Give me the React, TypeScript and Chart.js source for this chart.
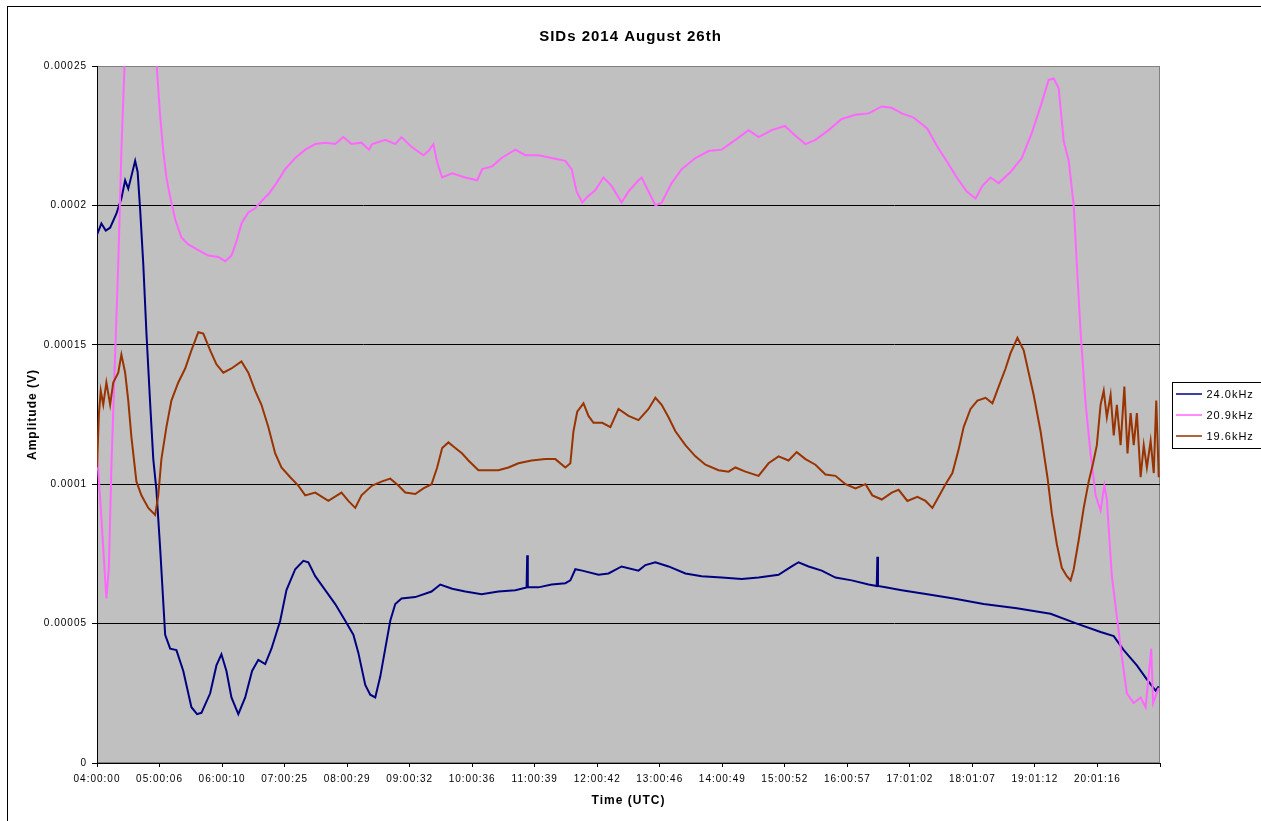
import { useEffect, useRef } from 'react';
import { Chart, registerables } from 'chart.js';

Chart.register(...registerables);

const FONT = '"Liberation Sans", Arial, sans-serif';

const chartTitle = 'SIDs 2014 August 26th';
const xAxisTitle = 'Time (UTC)';
const yAxisTitle = 'Amplitude (V)';

// category tick labels (one tick per ~hour of samples)
const xTickLabels = [
  '04:00:00', '05:00:06', '06:00:10', '07:00:25', '08:00:29', '09:00:32',
  '10:00:36', '11:00:39', '12:00:42', '13:00:46', '14:00:49', '15:00:52',
  '16:00:57', '17:01:02', '18:01:07', '19:01:12', '20:01:16', '',
];
const yTickValues = [0, 0.00005, 0.0001, 0.00015, 0.0002, 0.00025];
const yTickLabels = ['0', '0.00005', '0.0001', '0.00015', '0.0002', '0.00025'];

const seriesNames = ['24.0kHz', '20.9kHz', '19.6kHz'];
const seriesColors = ['#000080', '#FF66FF', '#993300'];

// 24.0 kHz : position along time axis (tick units) and amplitude (V)
const t24 = [
  0, 0.07, 0.14, 0.21, 0.31, 0.39, 0.45, 0.5, 0.55, 0.61, 0.65, 0.69, 0.74, 0.79, 0.85, 0.9, 0.95,
  1.01, 1.09, 1.17, 1.27, 1.38, 1.51, 1.6, 1.67, 1.81, 1.91, 1.99, 2.07, 2.15, 2.26, 2.37, 2.48,
  2.58, 2.69, 2.79, 2.93, 3.03, 3.17, 3.3, 3.38, 3.49, 3.65, 3.81, 3.97, 4.1, 4.18, 4.29, 4.37,
  4.45, 4.53, 4.61, 4.69, 4.77, 4.87, 5.09, 5.35, 5.49, 5.68, 5.89, 6.15, 6.42, 6.69, 6.87, 6.88,
  6.89, 7.06, 7.27, 7.49, 7.57, 7.65, 7.76, 8.02, 8.18, 8.39, 8.66, 8.77, 8.93, 9.14, 9.41, 9.67,
  9.99, 10.31, 10.58, 10.9, 11.11, 11.22, 11.38, 11.59, 11.81, 12.07, 12.34, 12.47, 12.48, 12.49,
  12.61, 12.87, 13.28, 13.7, 14.18, 14.71, 15.25, 15.67, 16.05, 16.26, 16.42, 16.63, 16.79, 16.93,
  16.98,
];
const v24 = [
  18.95e-5, 19.35e-5, 19.1e-5, 19.2e-5, 19.7e-5, 20.25e-5, 20.9e-5, 20.6e-5, 21.05e-5, 21.6e-5,
  21.2e-5, 19.85e-5, 17.9e-5, 15.45e-5, 12.9e-5, 10.9e-5, 9.8e-5, 7.7e-5, 4.6e-5, 4.1e-5, 4.05e-5,
  3.3e-5, 2.0e-5, 1.75e-5, 1.8e-5, 2.5e-5, 3.5e-5, 3.9e-5, 3.3e-5, 2.35e-5, 1.75e-5, 2.35e-5,
  3.3e-5, 3.7e-5, 3.55e-5, 4.1e-5, 5.1e-5, 6.2e-5, 6.95e-5, 7.25e-5, 7.2e-5, 6.7e-5, 6.2e-5,
  5.7e-5, 5.1e-5, 4.6e-5, 3.95e-5, 2.8e-5, 2.45e-5, 2.35e-5, 3.1e-5, 4.1e-5, 5.1e-5, 5.7e-5,
  5.9e-5, 5.95e-5, 6.15e-5, 6.4e-5, 6.25e-5, 6.15e-5, 6.05e-5, 6.15e-5, 6.2e-5, 6.3e-5, 7.45e-5,
  6.3e-5, 6.3e-5, 6.4e-5, 6.45e-5, 6.55e-5, 6.95e-5, 6.9e-5, 6.75e-5, 6.8e-5, 7.05e-5, 6.9e-5,
  7.1e-5, 7.2e-5, 7.05e-5, 6.8e-5, 6.7e-5, 6.65e-5, 6.6e-5, 6.65e-5, 6.75e-5, 7.05e-5, 7.2e-5,
  7.05e-5, 6.9e-5, 6.65e-5, 6.55e-5, 6.4e-5, 6.35e-5, 7.4e-5, 6.35e-5, 6.3e-5, 6.2e-5, 6.05e-5,
  5.9e-5, 5.7e-5, 5.55e-5, 5.35e-5, 5.0e-5, 4.7e-5, 4.55e-5, 4.05e-5, 3.5e-5, 3.0e-5, 2.6e-5,
  2.75e-5,
];

// 20.9 kHz
const t209 = [
  0, 0.05, 0.1, 0.15, 0.19, 0.23, 0.29, 0.34, 0.39, 0.44, 0.55, 0.7, 0.85, 0.955, 1.01, 1.06, 1.11,
  1.17, 1.25, 1.35, 1.46, 1.62, 1.78, 1.94, 2.05, 2.15, 2.23, 2.31, 2.42, 2.53, 2.63, 2.74, 2.87,
  3.01, 3.17, 3.33, 3.49, 3.65, 3.81, 3.94, 4.07, 4.23, 4.35, 4.4, 4.61, 4.77, 4.87, 5.03, 5.22,
  5.3, 5.38, 5.44, 5.52, 5.68, 5.89, 6.08, 6.16, 6.32, 6.47, 6.69, 6.85, 7.06, 7.27, 7.49, 7.59,
  7.67, 7.76, 7.84, 7.97, 8.1, 8.23, 8.39, 8.5, 8.66, 8.71, 8.82, 8.93, 9.03, 9.19, 9.35, 9.57,
  9.78, 9.99, 10.21, 10.42, 10.58, 10.79, 11.0, 11.17, 11.33, 11.49, 11.7, 11.91, 12.13, 12.34,
  12.55, 12.71, 12.87, 13.06, 13.28, 13.44, 13.6, 13.75, 13.91, 14.05, 14.16, 14.29, 14.42, 14.61,
  14.79, 14.95, 15.09, 15.22, 15.3, 15.38, 15.46, 15.54, 15.62, 15.67, 15.73, 15.81, 15.89, 15.97,
  16.05, 16.11, 16.15, 16.23, 16.31, 16.39, 16.47, 16.58, 16.69, 16.77, 16.86, 16.89, 16.98,
];
const v209 = [
  11.1e-5, 9.5e-5, 7.7e-5, 5.9e-5, 7.0e-5, 10.6e-5, 14.65e-5, 17.9e-5, 21.95e-5, 25.0e-5, 28.5e-5,
  29.5e-5, 27.5e-5, 25.0e-5, 23.2e-5, 21.95e-5, 21.0e-5, 20.3e-5, 19.5e-5, 18.85e-5, 18.6e-5,
  18.4e-5, 18.2e-5, 18.15e-5, 18.0e-5, 18.2e-5, 18.7e-5, 19.35e-5, 19.75e-5, 19.9e-5, 20.15e-5,
  20.4e-5, 20.8e-5, 21.3e-5, 21.7e-5, 22.0e-5, 22.2e-5, 22.25e-5, 22.2e-5, 22.45e-5, 22.2e-5,
  22.25e-5, 22.0e-5, 22.2e-5, 22.35e-5, 22.2e-5, 22.45e-5, 22.1e-5, 21.8e-5, 21.95e-5, 22.2e-5,
  21.55e-5, 21.0e-5, 21.15e-5, 21.0e-5, 20.9e-5, 21.3e-5, 21.4e-5, 21.7e-5, 22.0e-5, 21.8e-5,
  21.8e-5, 21.7e-5, 21.6e-5, 21.3e-5, 20.5e-5, 20.1e-5, 20.3e-5, 20.55e-5, 21.0e-5, 20.7e-5,
  20.1e-5, 20.5e-5, 20.9e-5, 21.0e-5, 20.5e-5, 20.0e-5, 20.1e-5, 20.8e-5, 21.3e-5, 21.7e-5,
  21.95e-5, 22.0e-5, 22.35e-5, 22.7e-5, 22.45e-5, 22.7e-5, 22.85e-5, 22.5e-5, 22.2e-5, 22.35e-5,
  22.7e-5, 23.1e-5, 23.25e-5, 23.3e-5, 23.55e-5, 23.5e-5, 23.3e-5, 23.15e-5, 22.75e-5, 22.1e-5,
  21.55e-5, 21.0e-5, 20.5e-5, 20.25e-5, 20.7e-5, 21.0e-5, 20.8e-5, 21.2e-5, 21.7e-5, 22.6e-5,
  23.55e-5, 24.5e-5, 24.55e-5, 24.2e-5, 22.3e-5, 21.6e-5, 20.0e-5, 17.9e-5, 15.45e-5, 12.9e-5,
  11.1e-5, 9.6e-5, 9.05e-5, 9.95e-5, 9.45e-5, 6.7e-5, 5.25e-5, 3.8e-5, 2.5e-5, 2.15e-5, 2.35e-5,
  2.0e-5, 4.1e-5, 2.15e-5, 2.7e-5,
];

// 19.6 kHz
const t196 = [
  0, 0.03, 0.06, 0.1, 0.15, 0.21, 0.26, 0.34, 0.39, 0.45, 0.5, 0.55, 0.63, 0.71, 0.82, 0.93, 0.98,
  1.03, 1.11, 1.19, 1.3, 1.41, 1.51, 1.62, 1.7, 1.81, 1.91, 2.02, 2.15, 2.31, 2.42, 2.53, 2.63,
  2.74, 2.85, 2.95, 3.09, 3.22, 3.33, 3.49, 3.7, 3.91, 4.02, 4.13, 4.23, 4.35, 4.4, 4.56, 4.69,
  4.82, 4.93, 5.09, 5.22, 5.35, 5.44, 5.52, 5.62, 5.73, 5.84, 5.94, 6.1, 6.26, 6.42, 6.58, 6.74,
  6.95, 7.17, 7.33, 7.49, 7.57, 7.62, 7.68, 7.78, 7.86, 7.94, 8.08, 8.21, 8.34, 8.5, 8.66, 8.82,
  8.93, 9.03, 9.14, 9.25, 9.41, 9.57, 9.73, 9.94, 10.1, 10.21, 10.37, 10.58, 10.74, 10.9, 11.06,
  11.19, 11.33, 11.49, 11.65, 11.81, 11.97, 12.13, 12.29, 12.4, 12.55, 12.71, 12.82, 12.96, 13.12,
  13.25, 13.36, 13.46, 13.57, 13.68, 13.78, 13.86, 13.97, 14.08, 14.21, 14.32, 14.42, 14.53, 14.61,
  14.72, 14.82, 14.9, 14.98, 15.09, 15.2, 15.27, 15.35, 15.43, 15.51, 15.57, 15.62, 15.7, 15.78,
  15.86, 15.93, 15.99, 16.05, 16.1, 16.15, 16.21, 16.26, 16.31, 16.37, 16.43, 16.48, 16.53, 16.58,
  16.63, 16.69, 16.74, 16.79, 16.85, 16.9, 16.94, 16.98,
];
const v196 = [
  10.6e-5, 12.5e-5, 13.35e-5, 12.85e-5, 13.65e-5, 12.85e-5, 13.65e-5, 14.0e-5, 14.65e-5, 14.0e-5,
  13.0e-5, 11.7e-5, 10.1e-5, 9.6e-5, 9.15e-5, 8.9e-5, 9.6e-5, 10.9e-5, 12.05e-5, 13.0e-5, 13.65e-5,
  14.15e-5, 14.8e-5, 15.45e-5, 15.4e-5, 14.8e-5, 14.3e-5, 14.0e-5, 14.15e-5, 14.4e-5, 14.0e-5,
  13.35e-5, 12.85e-5, 12.05e-5, 11.1e-5, 10.6e-5, 10.25e-5, 9.95e-5, 9.6e-5, 9.7e-5, 9.4e-5,
  9.7e-5, 9.4e-5, 9.15e-5, 9.6e-5, 9.85e-5, 9.95e-5, 10.1e-5, 10.2e-5, 9.95e-5, 9.7e-5, 9.65e-5,
  9.85e-5, 10.0e-5, 10.6e-5, 11.3e-5, 11.5e-5, 11.3e-5, 11.1e-5, 10.85e-5, 10.5e-5, 10.5e-5,
  10.5e-5, 10.6e-5, 10.75e-5, 10.85e-5, 10.9e-5, 10.9e-5, 10.6e-5, 10.75e-5, 11.9e-5, 12.6e-5,
  12.9e-5, 12.45e-5, 12.2e-5, 12.2e-5, 12.05e-5, 12.7e-5, 12.45e-5, 12.3e-5, 12.7e-5, 13.1e-5,
  12.85e-5, 12.4e-5, 11.9e-5, 11.4e-5, 11.0e-5, 10.7e-5, 10.5e-5, 10.45e-5, 10.6e-5, 10.45e-5,
  10.3e-5, 10.75e-5, 11.0e-5, 10.85e-5, 11.15e-5, 10.9e-5, 10.7e-5, 10.35e-5, 10.3e-5, 10.0e-5,
  9.85e-5, 10.0e-5, 9.6e-5, 9.45e-5, 9.7e-5, 9.8e-5, 9.4e-5, 9.55e-5, 9.4e-5, 9.15e-5, 9.55e-5,
  10.0e-5, 10.4e-5, 11.25e-5, 12.05e-5, 12.7e-5, 13.0e-5, 13.1e-5, 12.9e-5, 13.5e-5, 14.15e-5,
  14.7e-5, 15.25e-5, 14.8e-5, 14.0e-5, 13.2e-5, 11.9e-5, 10.25e-5, 8.95e-5, 7.85e-5, 7.0e-5,
  6.7e-5, 6.55e-5, 6.95e-5, 8.0e-5, 9.15e-5, 10.1e-5, 10.75e-5, 11.4e-5, 12.85e-5, 13.35e-5,
  12.4e-5, 13.2e-5, 11.75e-5, 12.85e-5, 11.4e-5, 13.5e-5, 11.1e-5, 12.55e-5, 11.4e-5, 12.55e-5,
  10.25e-5, 11.4e-5, 10.6e-5, 11.55e-5, 10.4e-5, 13.0e-5, 10.25e-5,
];

const seriesTimes = [t24, t209, t196];
const seriesValues = [v24, v209, v196];

const plotDecor = {
  id: 'plotDecor',
  beforeDraw(chart: any) {
    const { ctx, chartArea: a } = chart;
    ctx.save();
    ctx.fillStyle = '#ffffff';
    ctx.fillRect(0, 0, chart.width, chart.height);
    ctx.strokeStyle = '#000000';
    ctx.lineWidth = 1;
    ctx.strokeRect(7.5, 6.5, chart.width + 20, chart.height + 20);
    ctx.fillStyle = '#C0C0C0';
    ctx.fillRect(a.left, a.top, a.right - a.left, a.bottom - a.top);
    ctx.strokeStyle = '#808080';
    ctx.strokeRect(a.left + 0.5, a.top + 0.5, a.right - a.left - 1, a.bottom - a.top - 1);
    ctx.restore();
    (ctx as any).letterSpacing = '1px';
  },
  afterDraw(chart: any) {
    const { ctx, chartArea: a } = chart;
    const mid = (a.top + a.bottom) / 2;
    const left = a.right + 12.5;
    const top = Math.round(mid - 33) + 0.5;
    ctx.save();
    (ctx as any).letterSpacing = '1px';
    ctx.fillStyle = '#ffffff';
    ctx.fillRect(left, top, 120, 66);
    ctx.strokeStyle = '#000000';
    ctx.lineWidth = 1;
    ctx.strokeRect(left, top, 120, 66);
    ctx.font = '11px ' + FONT;
    ctx.textBaseline = 'middle';
    ctx.textAlign = 'left';
    seriesNames.forEach((name, i) => {
      const y = top + 11.5 + i * 21;
      ctx.strokeStyle = seriesColors[i];
      ctx.lineWidth = 1.5;
      ctx.beginPath();
      ctx.moveTo(left + 3.5, y);
      ctx.lineTo(left + 29.5, y);
      ctx.stroke();
      ctx.fillStyle = '#000000';
      ctx.fillText(name, left + 34, y + 0.5);
    });
    ctx.restore();
  },
};

export default function App() {
  const ref = useRef<HTMLCanvasElement | null>(null);

  useEffect(() => {
    if (!ref.current) return;
    const datasets = seriesNames.map((name, i) => ({
      label: name,
      data: seriesTimes[i].map((t, j) => ({ x: t, y: seriesValues[i][j] })),
      borderColor: seriesColors[i],
      backgroundColor: seriesColors[i],
      borderWidth: 2,
      pointRadius: 0,
      tension: 0,
      clip: 0,
      order: 3 - i,
    }));

    const chart = new Chart(ref.current, {
      type: 'line',
      data: { datasets },
      plugins: [plotDecor],
      options: {
        animation: false,
        responsive: false,
        devicePixelRatio: 1,
        layout: { padding: 0 },
        plugins: {
          legend: { display: false },
          tooltip: { enabled: false },
          title: {
            display: true,
            text: chartTitle,
            color: '#000000',
            font: { family: FONT, size: 15, weight: 'bold' },
            padding: { top: 28, bottom: 20 },
          },
        },
        scales: {
          x: {
            type: 'linear',
            min: 0,
            max: xTickLabels.length - 1,
            afterBuildTicks: (s: any) => {
              s.ticks = xTickLabels.map((_, i) => ({ value: i }));
            },
            afterFit: (s: any) => {
              s.height = 58;
            },
            ticks: {
              autoSkip: false,
              maxRotation: 0,
              minRotation: 0,
              padding: 6,
              color: '#000000',
              font: { family: FONT, size: 10 },
              callback: (_v: any, i: number) => xTickLabels[i],
            },
            grid: {
              display: true,
              drawOnChartArea: false,
              drawTicks: true,
              tickLength: 4,
              color: '#000000',
              tickColor: '#000000',
            },
            border: { display: true, color: '#000000', width: 1 },
            title: {
              display: true,
              text: xAxisTitle,
              color: '#000000',
              font: { family: FONT, size: 12, weight: 'bold' },
              padding: { top: 0, bottom: 13 },
            },
          },
          y: {
            type: 'linear',
            position: 'left',
            min: 0,
            max: 0.00025,
            afterBuildTicks: (s: any) => {
              s.ticks = yTickValues.map((v) => ({ value: v }));
            },
            afterFit: (s: any) => {
              s.width = 97;
            },
            ticks: {
              autoSkip: false,
              padding: 5,
              color: '#000000',
              font: { family: FONT, size: 10 },
              callback: (_v: any, i: number) => yTickLabels[i],
            },
            grid: {
              display: true,
              drawOnChartArea: true,
              drawTicks: true,
              tickLength: 5,
              color: (c: any) => (c.index === yTickValues.length - 1 ? '#808080' : '#000000'),
              tickColor: '#000000',
              lineWidth: 1,
            },
            border: { display: true, color: '#000000', width: 1 },
            title: {
              display: true,
              text: yAxisTitle,
              color: '#000000',
              font: { family: FONT, size: 12, weight: 'bold' },
              padding: { top: 25, bottom: 0 },
            },
          },
          yRight: {
            type: 'linear',
            position: 'right',
            display: true,
            afterFit: (s: any) => {
              s.width = 101;
            },
            ticks: { display: false },
            grid: { display: false, drawTicks: false },
            border: { display: false },
          },
        },
      } as any,
    });
    return () => chart.destroy();
  }, []);

  return (
    <div style={{ position: 'fixed', left: 0, top: 0, width: 1261, height: 821, background: '#fff' }}>
      <canvas ref={ref} width={1261} height={821} style={{ display: 'block', width: 1261, height: 821 }} />
    </div>
  );
}
